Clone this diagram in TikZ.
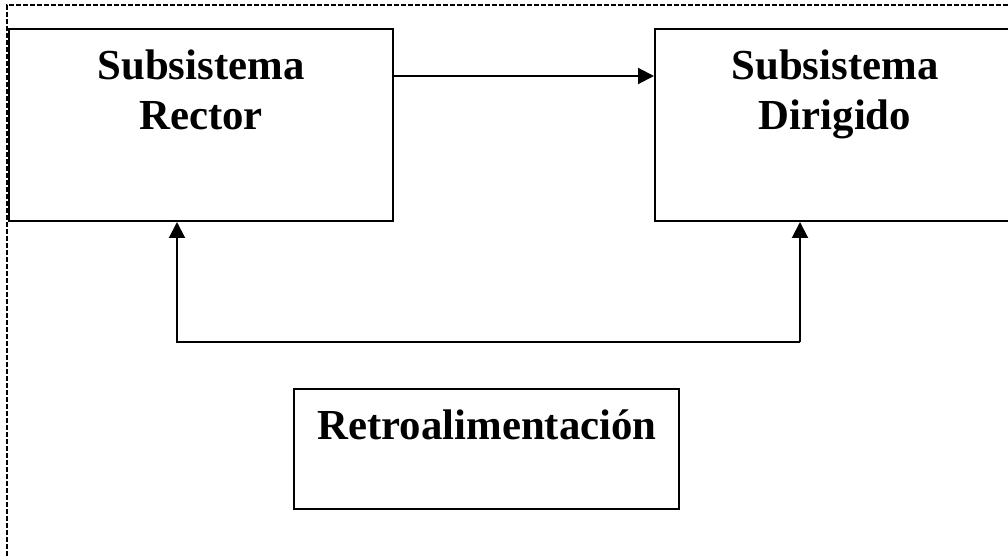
\documentclass[tikz,border=0pt]{standalone}
\usepackage{fontspec}
\setmainfont{Liberation Serif}
\usetikzlibrary{arrows.meta,calc}
\begin{document}
\begin{tikzpicture}[x=0.5pt,y=-0.5pt,
  box/.style={draw,line width=1pt,inner sep=0pt,minimum width=#1},
  lbl/.style={font=\fontsize{21.4}{25}\selectfont\bfseries,align=center,inner sep=0pt,anchor=north},
  arr/.style={line width=1pt,-{Triangle[length=8pt,width=8pt]}},
  frame/.style={line width=0.8pt,dash pattern=on 2.5pt off 1pt}]
\clip (0,0) rectangle (1008,556);
\fill[white] (0,0) rectangle (1008,556);
\draw[frame] (7,556) -- (7,5) -- (1012,5);
\node[box=192pt,minimum height=96pt] (rector) at (201,125) {};
\node[box=180pt,minimum height=96pt] (dirigido) at (835,125) {};
\node[box=192.5pt,minimum height=60pt] (retro) at (486.5,449) {};
\node[lbl] (trector) at (201,49) {Subsistema\\Rector};
\node[lbl] (tdirigido) at (835,49) {Subsistema\\Dirigido};
\node[lbl] (tretro) at (487,409) {Retroalimentación};
\draw[arr] ($(rector.north east)+(0,48)$) -- ($(dirigido.north west)+(0,48)$);
\coordinate (fbR) at (800,342);
\coordinate (fbL) at (177,342);
\draw[arr] (fbR) -- (fbL) -- (fbL |- rector.south);
\draw[arr] (fbR) -- (fbR |- dirigido.south);
\end{tikzpicture}
\end{document}
